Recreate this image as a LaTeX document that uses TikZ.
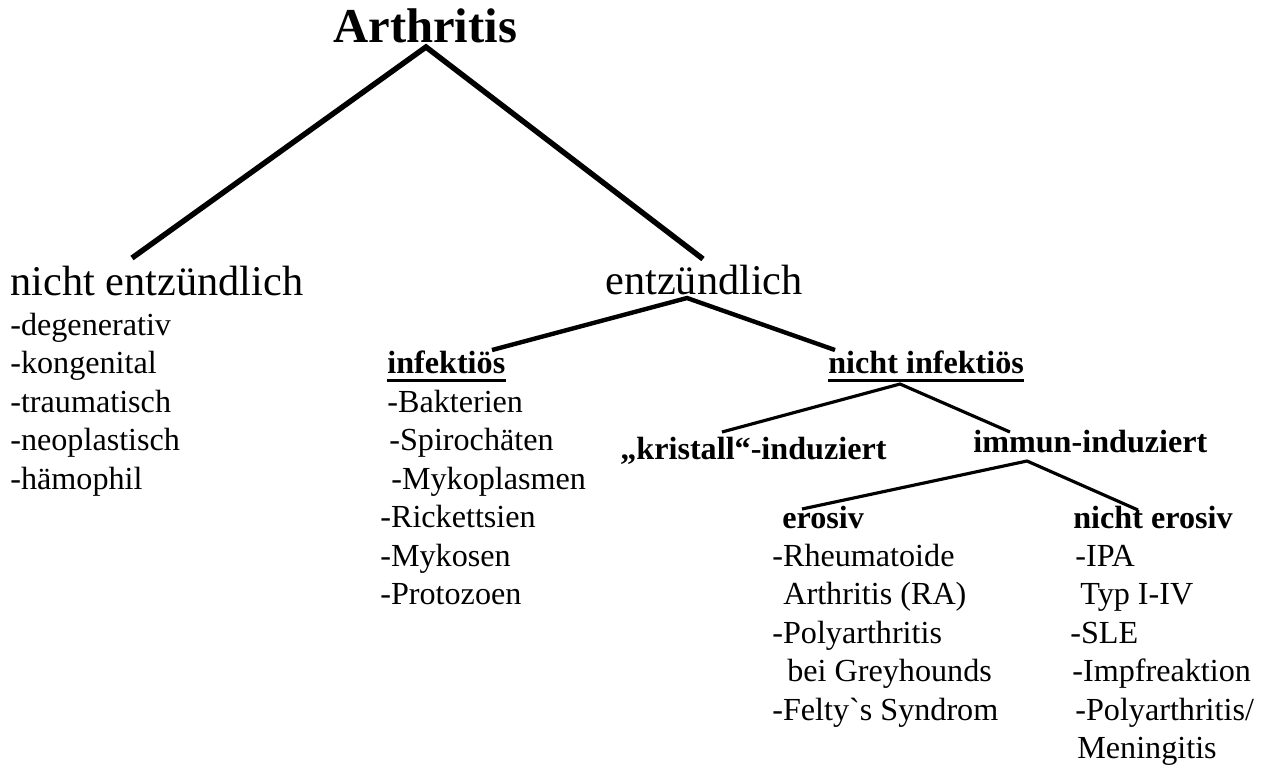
\documentclass[tikz,border=0pt]{standalone}
\usepackage{fontspec}
\setmainfont{Liberation Serif}[Ligatures=TeXOff]

\begin{document}
\begin{tikzpicture}[x=0.02cm,y=-0.02cm,
    txt/.style={anchor=base west,inner sep=0pt,font=\fontsize{18.3}{22}\selectfont},
    hd/.style={txt,font=\fontsize{18.3}{22}\selectfont\bfseries},
    big/.style={anchor=base west,inner sep=0pt,font=\fontsize{24.1}{29}\selectfont},
    lvla/.style={line width=3.1pt},
    lvlb/.style={line width=2.5pt},
    lvlc/.style={line width=1.8pt},
    uline/.style={line width=1.6pt}]
\useasboundingbox (0,0) rectangle (1271,769);

    \node[anchor=base west,inner sep=0pt,font=\fontsize{27.7}{33}\selectfont\bfseries] (arth) at (333,42) {Arthritis};
    \node[big] (nent) at (10,295) {nicht entzündlich};
    \node[big] (ent) at (605,294) {entzündlich};

    % nicht entzuendlich
    \node[txt] (deg) at (10,335) {-degenerativ};
    \node[txt] (kon) at (10,373.5) {-kongenital};
    \node[txt] (tra) at (10,412) {-traumatisch};
    \node[txt] (neo) at (10,450.5) {-neoplastisch};
    \node[txt] (haem) at (10,489) {-hämophil};

    % infektioes
    \node[hd] (inf) at (387,373.5) {infektiös};
    \node[txt] (bak) at (387,412) {-Bakterien};
    \node[txt] (spi) at (389,450.5) {-Spirochäten};
    \node[txt] (myp) at (391,489) {-Mykoplasmen};
    \node[txt] (ric) at (380,527.5) {-Rickettsien};
    \node[txt] (myk) at (380,566) {-Mykosen};
    \node[txt] (pro) at (380,604.5) {-Protozoen};

    % nicht infektioes
    \node[hd] (ninf) at (828,373.5) {nicht infektiös};
    \node[hd] (kri) at (620,459) {„kristall“-induziert};
    \node[hd] (imm) at (973,452) {immun-induziert};

    \node[hd] (ero) at (782,528) {erosiv};
    \node[txt] (rheu) at (772,566) {-Rheumatoide};
    \node[txt] (ra) at (783,604.5) {Arthritis (RA)};
    \node[txt] (poly) at (772,643) {-Polyarthritis};
    \node[txt] (grey) at (787,681.5) {bei Greyhounds};
    \node[txt] (fel) at (772,720) {-Felty`s Syndrom};

    \node[hd] (nero) at (1073,528) {nicht erosiv};
    \node[txt] (ipa) at (1075,566) {-IPA};
    \node[txt] (typ) at (1080,604.5) {Typ I-IV};
    \node[txt] (sle) at (1070,643) {-SLE};
    \node[txt] (impf) at (1072,681.5) {-Impfreaktion};
    \node[txt] (pam) at (1075,720) {-Polyarthritis/};
    \node[txt] (men) at (1077,758.5) {Meningitis};

    % end points of the branches
    \coordinate (arth-b) at (426,47);
    \coordinate (nent-t) at (132,258);
    \coordinate (ent-t) at (703,259);
    \coordinate (ent-b) at (687,298);
    \coordinate (inf-t) at (492,350);
    \coordinate (ninf-t) at (835,350);
    \coordinate (ninf-b) at (900,384);
    \coordinate (kri-t) at (722,432);
    \coordinate (imm-t) at (1010,432);
    \coordinate (imm-b) at (1027,461);
    \coordinate (ero-t) at (802,509);
    \coordinate (nero-t) at (1138,510);

    \draw[lvla] (nent-t) -- (arth-b) -- (ent-t);
    \draw[lvlb] (inf-t) -- (ent-b) -- (ninf-t);
    \draw[lvlc] (kri-t) -- (ninf-b) -- (imm-t);
    \draw[lvlc] (ero-t) -- (imm-b) -- (nero-t);

    \draw[uline] ([yshift=-4pt]inf.base west) -- ([yshift=-4pt]inf.base east);
    \draw[uline] ([yshift=-4pt]ninf.base west) -- ([yshift=-4pt]ninf.base east);

\end{tikzpicture}
\end{document}
